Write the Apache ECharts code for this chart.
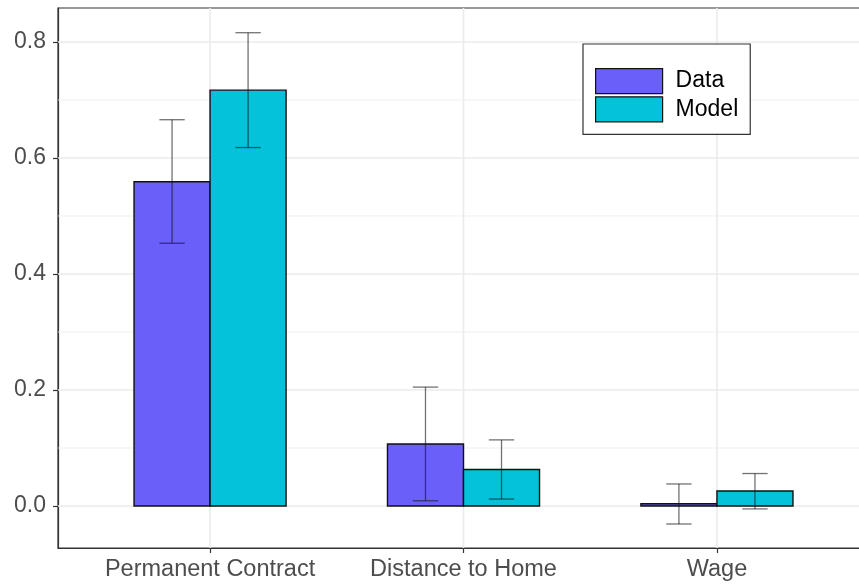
<!DOCTYPE html>
<html>
<head>
<meta charset="utf-8">
<script src="https://cdn.jsdelivr.net/npm/echarts@6/dist/echarts.min.js"></script>
<style>
html,body{margin:0;padding:0;background:#fff;}
#chart{width:859px;height:586px;}
</style>
</head>
<body>
<div id="chart"></div>
<script>
// ---- data ----
const categories = ['Permanent Contract', 'Distance to Home', 'Wage'];
const dataValues = [0.559, 0.107, 0.004];
const dataLower  = [0.453, 0.009, -0.031];
const dataUpper  = [0.666, 0.205, 0.038];
const modelValues = [0.717, 0.063, 0.026];
const modelLower  = [0.618, 0.012, -0.005];
const modelUpper  = [0.816, 0.114, 0.056];
const yMajorBreaks = [0, 0.2, 0.4, 0.6, 0.8];
const yMinorBreaks = [0.1, 0.3, 0.5, 0.7];
const yTickLabels = ['0.0', '0.2', '0.4', '0.6', '0.8'];

// ---- layout/style constants ----
const X_MIN = 0.4, X_MAX = 3.6;
const Y_MIN = -0.0724, Y_MAX = 0.8586;
const DODGE = 0.15, HALF_BAR = 0.15, HALF_CAP = 0.05;
const COLOR_DATA = '#6A5FF8';
const COLOR_MODEL = '#03C2D9';
const FONT = '"Liberation Sans", Arial, sans-serif';

const catPos = categories.map((c, i) => i + 1);

function barSeries(name, color, vals, lo, hi, offset) {
  return {
    name: name,
    type: 'custom',
    coordinateSystem: 'cartesian2d',
    itemStyle: { color: color },
    data: vals.map((v, i) => [catPos[i] + offset, v, lo[i], hi[i]]),
    encode: { x: 0, y: 1 },
    z: 3,
    renderItem: function (params, api) {
      const xc = api.value(0), v = api.value(1);
      const p0 = api.coord([xc - HALF_BAR, v]);
      const p1 = api.coord([xc + HALF_BAR, 0]);
      return {
        type: 'rect',
        shape: { x: p0[0], y: Math.min(p0[1], p1[1]), width: p1[0] - p0[0], height: Math.abs(p1[1] - p0[1]) },
        style: { fill: color, stroke: '#111', lineWidth: 1.4 }
      };
    }
  };
}

function errSeries(name, vals, lo, hi, offset) {
  return {
    name: name,
    type: 'custom',
    coordinateSystem: 'cartesian2d',
    data: vals.map((v, i) => [catPos[i] + offset, v, lo[i], hi[i]]),
    encode: { x: 0, y: 1 },
    z: 4,
    silent: true,
    renderItem: function (params, api) {
      const xc = api.value(0), l = api.value(2), h = api.value(3);
      const a = api.coord([xc, l]), b = api.coord([xc, h]);
      const la = api.coord([xc - HALF_CAP, l]), ra = api.coord([xc + HALF_CAP, l]);
      const lb = api.coord([xc - HALF_CAP, h]), rb = api.coord([xc + HALF_CAP, h]);
      const st = { stroke: 'rgba(20,20,20,0.6)', lineWidth: 1.3 };
      return {
        type: 'group',
        children: [
          { type: 'line', shape: { x1: a[0], y1: a[1], x2: b[0], y2: b[1] }, style: st },
          { type: 'line', shape: { x1: la[0], y1: la[1], x2: ra[0], y2: ra[1] }, style: st },
          { type: 'line', shape: { x1: lb[0], y1: lb[1], x2: rb[0], y2: rb[1] }, style: st }
        ]
      };
    }
  };
}

const gridLines = [];
yMinorBreaks.forEach(v => gridLines.push(['h', v, 0.8]));
yMajorBreaks.forEach(v => gridLines.push(['h', v, 1.6]));
catPos.forEach(v => gridLines.push(['v', v, 1.6]));

const gridSeries = {
  type: 'custom',
  name: 'grid',
  coordinateSystem: 'cartesian2d',
  silent: true,
  z: 1,
  data: gridLines.map(g => [g[0] === 'h' ? 0 : 1, g[1], g[2]]),
  encode: { x: 1, y: 1 },
  renderItem: function (params, api) {
    const kind = api.value(0), v = api.value(1), w = api.value(2);
    let a, b;
    if (kind === 0) { a = api.coord([X_MIN, v]); b = api.coord([X_MAX, v]); }
    else { a = api.coord([v, Y_MIN]); b = api.coord([v, Y_MAX]); }
    return { type: 'line', shape: { x1: a[0], y1: a[1], x2: b[0], y2: b[1] }, style: { stroke: '#EBEBEB', lineWidth: w } };
  }
};

const chart = echarts.init(document.getElementById('chart'), null, { renderer: 'canvas' });
chart.setOption({
  animation: false,
  backgroundColor: '#ffffff',
  textStyle: { fontFamily: FONT },
  grid: { left: 58, top: 8, width: 811, height: 540, show: true, borderColor: '#333333', borderWidth: 1.2, backgroundColor: 'transparent', containLabel: false, outerBoundsMode: 'none' },
  legend: {
    left: 583, top: 44,
    orient: 'vertical',
    padding: [24, 12, 12, 12],
    itemGap: 2,
    itemWidth: 67, itemHeight: 25,
    backgroundColor: '#fff',
    borderColor: '#333', borderWidth: 1.2, borderRadius: 0,
    textStyle: { fontFamily: FONT, fontSize: 23, color: '#000', lineHeight: 25, padding: [0, 0, 0, 8] },
    data: [
      { name: 'Data', icon: 'rect', itemStyle: { color: COLOR_DATA, borderColor: '#111', borderWidth: 1.2 } },
      { name: 'Model', icon: 'rect', itemStyle: { color: COLOR_MODEL, borderColor: '#111', borderWidth: 1.2 } }
    ]
  },
  xAxis: {
    type: 'value', min: X_MIN, max: X_MAX,
    splitLine: { show: false },
    axisLine: { show: true, onZero: false, lineStyle: { color: '#333', width: 1.2 } },
    axisTick: { show: true, length: 5, lineStyle: { color: '#333', width: 1.2 }, customValues: catPos },
    axisLabel: { customValues: catPos, fontFamily: FONT, fontSize: 23.5, color: '#4D4D4D', margin: 10,
      formatter: v => categories[Math.round(v) - 1] }
  },
  yAxis: {
    type: 'value', min: Y_MIN, max: Y_MAX,
    splitLine: { show: false },
    axisLine: { show: true, onZero: false, lineStyle: { color: '#333', width: 1.2 } },
    axisTick: { show: true, length: 5, lineStyle: { color: '#333', width: 1.2 }, customValues: yMajorBreaks },
    axisLabel: { customValues: yMajorBreaks, fontFamily: FONT, fontSize: 23, color: '#4D4D4D', margin: 12,
      formatter: v => yTickLabels[yMajorBreaks.findIndex(b => Math.abs(b - v) < 1e-6)] }
  },
  series: [
    gridSeries,
    barSeries('Data', COLOR_DATA, dataValues, dataLower, dataUpper, -DODGE),
    barSeries('Model', COLOR_MODEL, modelValues, modelLower, modelUpper, DODGE),
    errSeries('DataErr', dataValues, dataLower, dataUpper, -DODGE),
    errSeries('ModelErr', modelValues, modelLower, modelUpper, DODGE)
  ]
});
</script>
</body>
</html>
